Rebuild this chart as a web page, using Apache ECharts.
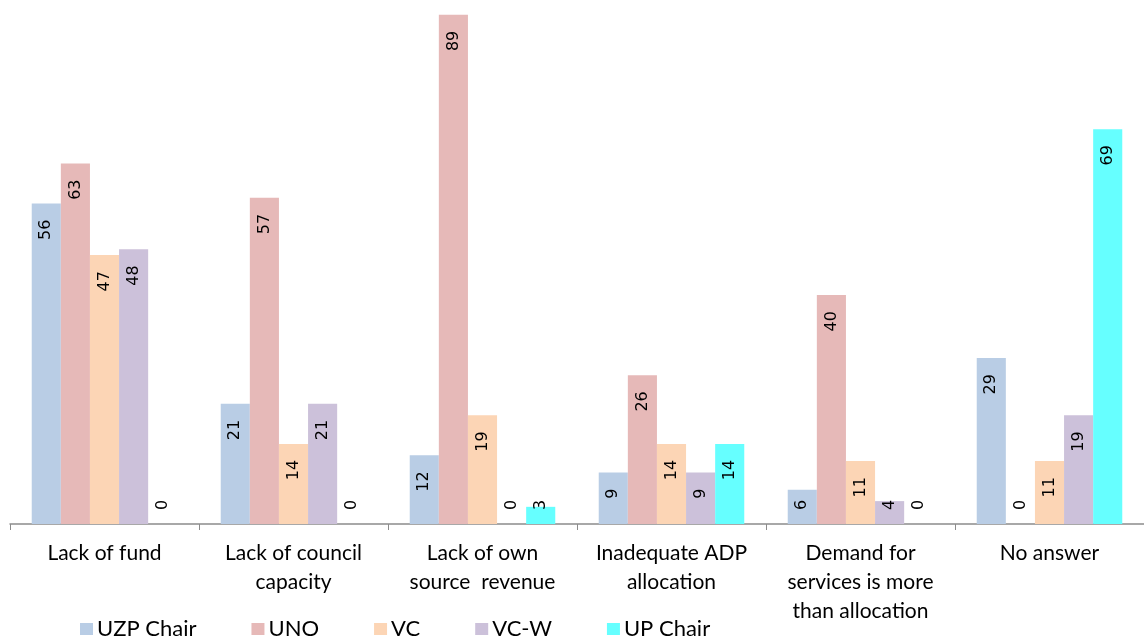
<!DOCTYPE html>
<html>
<head>
<meta charset="utf-8">
<script src="https://cdn.jsdelivr.net/npm/echarts@6/dist/echarts.min.js"></script>
<style>
  html, body { margin: 0; padding: 0; background: #fff; }
  #chart { width: 1144px; height: 637px; }
</style>
</head>
<body>
<div id="chart"></div>
<script>
// Reasons given by respondents, per respondent group (%)
const categories = [
  'Lack of fund',
  'Lack of council\ncapacity',
  'Lack of own\nsource  revenue',
  'Inadequate ADP\nallocation',
  'Demand for\nservices is more\nthan allocation',
  'No answer'
];
const seriesNames = ['UZP Chair', 'UNO', 'VC', 'VC-W', 'UP Chair'];
const uzpChair = [56, 21, 12, 9, 6, 29];
const uno      = [63, 57, 89, 26, 40, 0];
const vc       = [47, 14, 19, 14, 11, 11];
const vcW      = [48, 21, 0, 9, 4, 19];
const upChair  = [0, 0, 3, 14, 0, 69];
const colors = ['#B9CDE5', '#E6B9B8', '#FCD5B5', '#CCC1DA', '#66FFFF'];

const values = [uzpChair, uno, vc, vcW, upChair];

const chart = echarts.init(document.getElementById('chart'));

const series = values.map((arr, i) => ({
  name: seriesNames[i],
  type: 'bar',
  data: arr,
  barGap: '0%',
  barCategoryGap: '23%',
  itemStyle: { color: colors[i] },
  label: {
    show: true,
    position: 'insideTop',
    distance: 16,
    rotate: 90,
    align: 'right',
    verticalAlign: 'middle',
    fontFamily: 'DejaVu Sans',
    fontSize: 16,
    color: '#000'
  }
}));

chart.setOption({
  animation: false,
  color: colors,
  grid: { left: 10, right: -6, top: 9, bottom: 113, containLabel: false },
  legend: {
    left: 75,
    top: 613,
    itemWidth: 13,
    itemHeight: 12,
    itemGap: 55,
    icon: 'rect',
    textStyle: { fontFamily: 'Lato', fontSize: 22, color: '#000', padding: [0, 0, 0, -1] },
    data: seriesNames
  },
  xAxis: {
    type: 'category',
    data: categories,
    axisLine: { show: true, lineStyle: { color: '#8c8c8c', width: 1.5 } },
    axisTick: { show: true, length: 6, lineStyle: { color: '#8c8c8c' } },
    axisLabel: {
      interval: 0,
      margin: 15,
      fontFamily: 'Lato',
      fontSize: 21,
      lineHeight: 29,
      color: '#000'
    }
  },
  yAxis: {
    type: 'value',
    min: 0,
    max: 90,
    show: false,
    splitLine: { show: false }
  },
  labelLayout: function (p) {
    // keep value labels clear of the axis on short bars
    const len = p.text.length * 10.2;
    const base = p.rect.y + p.rect.height;
    const y = Math.min(p.rect.y + 16, base - 14 - len);
    return { x: p.rect.x + p.rect.width / 2, y: y };
  },
  series: series
});
</script>
</body>
</html>
